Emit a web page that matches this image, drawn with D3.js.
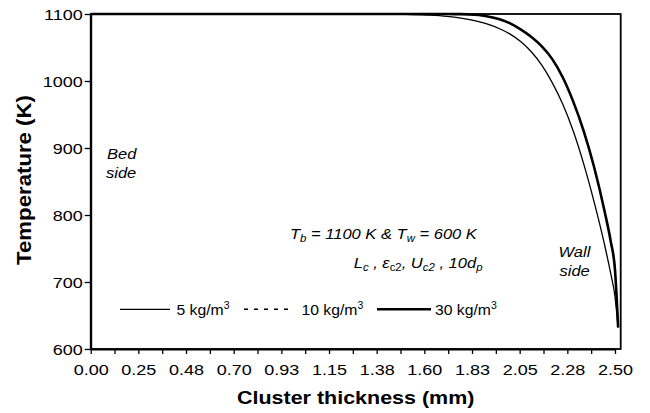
<!DOCTYPE html>
<html>
<head>
<meta charset="utf-8">
<script src="https://cdn.jsdelivr.net/npm/d3@7"></script>
<style>
  body { margin: 0; background: #fff; }
  svg { font-family: "Liberation Sans", Arial, sans-serif; }
</style>
</head>
<body>
<div id="chart"></div>
<script>
// data
var xTickLabels = ['0.00', '0.25', '0.48', '0.70', '0.93', '1.15', '1.38', '1.60', '1.83', '2.05', '2.28', '2.50'];
var yTicks = [600, 700, 800, 900, 1000, 1100];
var thickness = [0, 1.4, 1.5, 1.6, 1.7, 1.75, 1.8, 1.85, 1.9, 1.95, 2.0, 2.05, 2.1, 2.15, 2.2, 2.25, 2.3, 2.35, 2.4, 2.45, 2.48, 2.5, 2.515];
var temp5 = [1100, 1100, 1099.5, 1098.5, 1096.5, 1094.5, 1092, 1088.5, 1084, 1078, 1070, 1059, 1044, 1024, 998, 966, 926, 877, 820, 756, 712, 678, 632];
var temp10 = [1100, 1100, 1100, 1100, 1100, 1099.8, 1099.5, 1098.5, 1096, 1092, 1086, 1077, 1066, 1052, 1033, 1006, 970, 926, 872, 806, 760, 718, 632];
var temp30 = [1100, 1100, 1100, 1100, 1100, 1099.8, 1099.5, 1098.5, 1096, 1092, 1086, 1077, 1066, 1052, 1033, 1006, 970, 926, 872, 806, 760, 718, 632];
var seriesNames = ['5 kg/m', '10 kg/m', '30 kg/m'];

var width = 650, height = 413;
var plotLeft = 90.7, plotRight = 620.7, plotTop = 14, plotBottom = 349;
var sx = 1.2; // tick text in the picture is wider than Arial

var svg = d3.select('#chart').append('svg').attr('width', width).attr('height', height);

var x = d3.scaleLinear().domain([0, 2.5]).range([plotLeft, 615]);
var y = d3.scaleLinear().domain([600, 1100]).range([plotBottom, plotTop]);

// frame
svg.append('rect')
  .attr('x', plotLeft).attr('y', plotTop)
  .attr('width', plotRight - plotLeft).attr('height', plotBottom - plotTop)
  .attr('fill', 'none').attr('stroke', '#000').attr('stroke-width', 1.8);

// x axis: minor ticks every half label step, labels on every other one
var minorTicks = d3.range(xTickLabels.length * 2 - 1).map(function(i) { return i * 2.5 / 22; });
var xAxis = svg.append('g')
  .attr('transform', 'translate(0,' + plotBottom + ')')
  .call(d3.axisBottom(x).tickValues(minorTicks).tickSize(5).tickSizeOuter(0)
    .tickFormat(function(d, i) { return i % 2 === 0 ? xTickLabels[i / 2] : ''; }));
xAxis.select('.domain').attr('stroke-width', 2);
xAxis.selectAll('.tick line').attr('stroke-width', 1.3);
xAxis.selectAll('.tick text')
  .attr('y', 26).attr('dy', 0)
  .attr('font-size', 15).attr('fill', '#000')
  .attr('transform', 'scale(' + sx + ',1)');

var yAxis = svg.append('g')
  .attr('transform', 'translate(' + plotLeft + ',0)')
  .call(d3.axisLeft(y).tickValues(yTicks).tickSize(6).tickSizeOuter(0).tickFormat(d3.format('d')));
yAxis.select('.domain').attr('stroke-width', 2);
yAxis.selectAll('.tick line').attr('stroke-width', 1.3);
yAxis.selectAll('.tick text')
  .attr('x', -8 / sx).attr('dy', '0.36em')
  .attr('font-size', 15).attr('fill', '#000')
  .attr('transform', 'scale(' + sx + ',1)');
xAxis.attr('font-family', null).attr('font-size', null);
yAxis.attr('font-family', null).attr('font-size', null);

// axis titles
svg.append('text')
  .attr('transform', 'translate(355.7,404) scale(1.13,1)')
  .attr('text-anchor', 'middle')
  .attr('font-size', 19).attr('font-weight', 'bold')
  .text('Cluster thickness (mm)');

svg.append('text')
  .attr('transform', 'translate(31,180) rotate(-90) scale(1.14,1)')
  .attr('text-anchor', 'middle')
  .attr('font-size', 19.5).attr('font-weight', 'bold')
  .text('Temperature (K)');

// curves
var line = d3.line()
  .x(function(d) { return x(d[0]); })
  .y(function(d) { return y(d[1]); })
  .curve(d3.curveMonotoneX);

function pts(vals) {
  return thickness.map(function(t, i) { return [t, vals[i]]; });
}

svg.append('path').datum(pts(temp10))
  .attr('d', line).attr('fill', 'none').attr('stroke', '#000')
  .attr('stroke-width', 1.3).attr('stroke-dasharray', '4,6');
svg.append('path').datum(pts(temp30))
  .attr('d', line).attr('fill', 'none').attr('stroke', '#000')
  .attr('stroke-width', 2.6);
svg.append('path').datum(pts(temp5))
  .attr('d', line).attr('fill', 'none').attr('stroke', '#000')
  .attr('stroke-width', 1.3);

// legend
var legendY = 309.3;
var legendItems = [
  { x1: 120, x2: 170, tx: 176.5, w: 1.3, dash: null },
  { x1: 244, x2: 292, tx: 301.5, w: 1.4, dash: '4,6' },
  { x1: 377, x2: 431, tx: 435, w: 2.6, dash: null }
];
legendItems.forEach(function(it, i) {
  svg.append('line')
    .attr('x1', it.x1).attr('x2', it.x2).attr('y1', legendY).attr('y2', legendY)
    .attr('stroke', '#000').attr('stroke-width', it.w)
    .attr('stroke-dasharray', it.dash);
  var t = svg.append('text')
    .attr('transform', 'translate(' + it.tx + ',315) scale(1.05,1)')
    .attr('font-size', 15);
  t.append('tspan').text(seriesNames[i]);
  t.append('tspan').attr('font-size', 10).attr('dy', -6).text('3');
});

// annotations
function italic(tx, ty, anchor) {
  return svg.append('text')
    .attr('transform', 'translate(' + tx + ',' + ty + ') scale(1.14,1)')
    .attr('text-anchor', anchor)
    .attr('font-size', 14.5).attr('font-style', 'italic');
}

italic(107, 159, 'start').text('Bed');
italic(106, 178, 'start').text('side');
italic(558.5, 256.7, 'start').text('Wall');
italic(559.5, 276, 'start').text('side');

var l1 = italic(290, 239, 'start');
l1.append('tspan').text('T');
l1.append('tspan').attr('font-size', 10).attr('dy', 3).text('b');
l1.append('tspan').attr('dy', -3).text('  = 1100 K & T');
l1.append('tspan').attr('font-size', 10).attr('dy', 3).text('w');
l1.append('tspan').attr('dy', -3).text('  = 600 K');

var l2 = italic(482.5, 268, 'end');
l2.append('tspan').text('L');
l2.append('tspan').attr('font-size', 10).attr('dy', 3).text('c');
l2.append('tspan').attr('dy', -3).text(' , ε');
l2.append('tspan').attr('font-size', 10).attr('dy', 3).attr('font-style', 'normal').text('c2');
l2.append('tspan').attr('dy', -3).text(', U');
l2.append('tspan').attr('font-size', 10).attr('dy', 3).text('c2');
l2.append('tspan').attr('dy', -3).text(' , 10d');
l2.append('tspan').attr('font-size', 10).attr('dy', 3).text('p');
</script>
</body>
</html>
